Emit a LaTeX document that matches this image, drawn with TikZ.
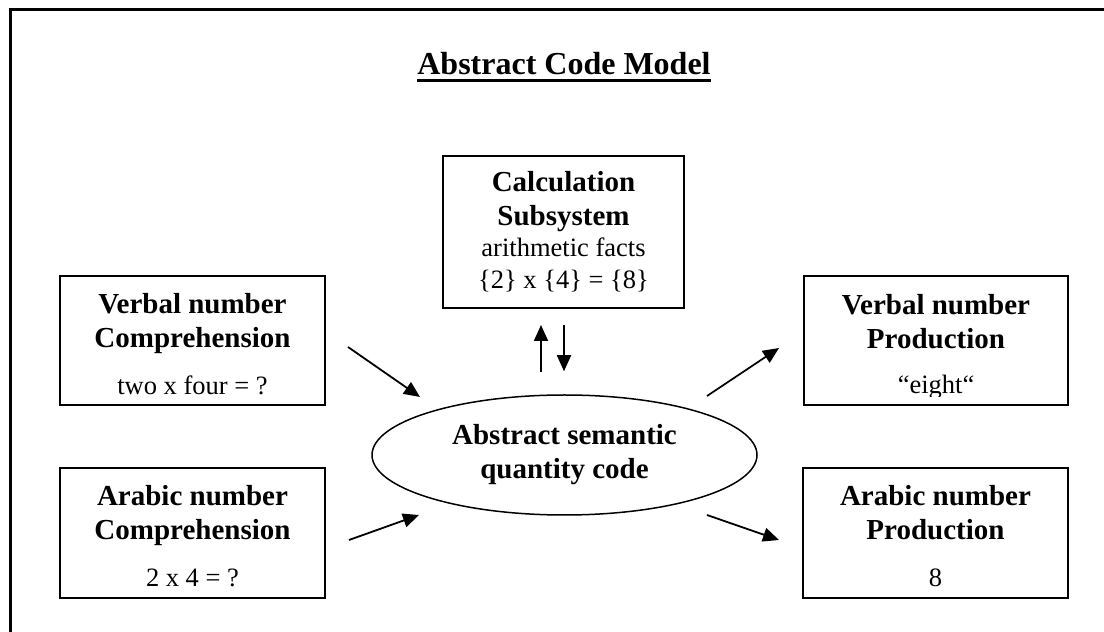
\documentclass[tikz,border=0pt]{standalone}
\usepackage{fontspec}
\setmainfont{Liberation Serif}
\usetikzlibrary{shapes.geometric, arrows.meta, positioning, calc}
\newcommand{\reg}{\mdseries\fontsize{26.5}{34}\selectfont}
\newcommand{\boxstrut}{\rule{0pt}{27pt}}

\begin{document}
\begin{tikzpicture}[
    x=1pt, y=1pt,
    module/.style={draw, line width=2pt, minimum width=265pt, minimum height=129pt, inner sep=0pt, align=center, font=\bfseries\fontsize{29}{34}\selectfont},
    semantic/.style={ellipse, draw, line width=1.5pt, minimum width=385pt, minimum height=120pt, inner sep=0pt, align=center, font=\bfseries\fontsize{29}{34}\selectfont},
    arrow/.style={-{Triangle[length=16pt, width=14pt]}, line width=1.8pt}
]
    \useasboundingbox (0,0) rectangle (1104,632);
    \draw[line width=3pt] (10,-10) -- (10,622) -- (1115,622);

    \node[inner sep=0pt, anchor=base, font=\bfseries\fontsize{32}{38}\selectfont] (title) at (564,557) {Abstract Code Model};
    \draw[line width=3pt] ([yshift=-6pt]title.base west) -- ([yshift=-6pt]title.base east);

    \node[module, minimum width=241pt, minimum height=152pt] (calc) at (563.5,400) {Calculation\\ Subsystem\\[-3pt] {\reg arithmetic facts}\\[-2pt] {\reg \{2\} x \{4\} = \{8\}}};
    \node[module] (vcomp) at (192.5,291.5) {\boxstrut Verbal number\\ Comprehension\\[13pt] {\reg two x four = ?}};
    \node[module, minimum height=130pt] (acomp) at (192.5,99) {\boxstrut Arabic number\\ Comprehension\\[13pt] {\reg 2 x 4 = ?}};
    \node[module, minimum width=264pt] (vprod) at (936,291.5) {\boxstrut Verbal number\\ Production\\[11pt] {\reg \hphantom{“eight“}}};
    \node[module, minimum height=130pt] (aprod) at (935.5,99) {\boxstrut Arabic number\\ Production\\[13pt] {\reg 8}};
    \node[semantic] (sem) at (564.5,177) {Abstract semantic\\ quantity code};

    \begin{scope}
        \clip ([yshift=9pt]vprod.south west) rectangle (vprod.north east);
        \node[inner sep=0pt, anchor=base, font=\reg] (eight) at ($(vprod.south)+(0,12)$) {“eight“};
    \end{scope}

    \coordinate (vc-out) at ($(vcomp.east)+(22,-6.5)$);
    \coordinate (vc-in) at ($(sem.center)+(-144.5,58)$);
    \coordinate (ac-out) at ($(acomp.east)+(23,-7)$);
    \coordinate (ac-in) at ($(sem.center)+(-145.5,-60)$);
    \coordinate (vp-out) at ($(sem.center)+(142.5,59)$);
    \coordinate (vp-in) at ($(vprod.west)+(-24,-7.5)$);
    \coordinate (ap-out) at ($(sem.center)+(142.5,-60)$);
    \coordinate (ap-in) at ($(aprod.west)+(-23,-7)$);

    \draw[arrow] (vc-out) -- (vc-in);
    \draw[arrow] (ac-out) -- (ac-in);
    \draw[arrow] (vp-out) -- (vp-in);
    \draw[arrow] (ap-out) -- (ap-in);
    \draw[arrow, shorten <=22pt, shorten >=16pt] ([xshift=-23.5pt]sem.north) -- ([xshift=-22.5pt]calc.south);
    \draw[arrow, shorten <=16pt, shorten >=23pt] ([xshift=0.5pt]calc.south) -- ([xshift=-0.5pt]sem.north);
\end{tikzpicture}
\end{document}
